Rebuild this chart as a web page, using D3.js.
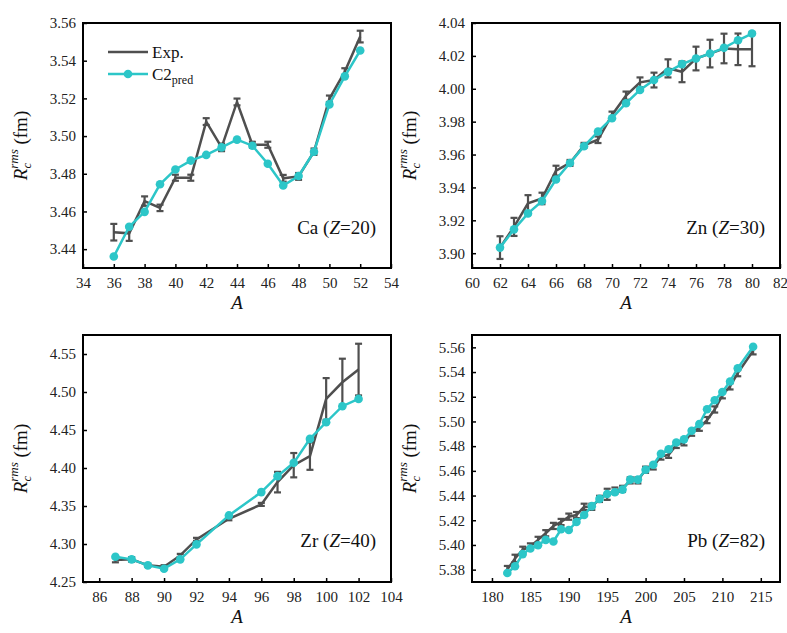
<!DOCTYPE html>
<html>
<head>
<meta charset="utf-8">
<script src="https://cdn.jsdelivr.net/npm/d3@7"></script>
<style>
  body { margin: 0; background: #fff; }
  text { font-family: 'Liberation Serif', 'Times New Roman', 'DejaVu Serif', serif !important; }
</style>
</head>
<body>
<svg></svg>
<script>
// Ca (Z=20)
const caA    = [36, 37, 38, 39, 40, 41, 42, 43, 44, 45, 46, 47, 48, 49, 50, 51, 52];
const caExp  = [3.4490, 3.4484, 3.4655, 3.4619, 3.4779, 3.4779, 3.5077, 3.4940, 3.5181, 3.4954, 3.4954, 3.4776, 3.4786, 3.4917, 3.5198, 3.5342, 3.5528];
const caErr  = [0.0044, 0.0040, 0.0025, 0.0017, 0.0016, 0.0016, 0.0018, 0.0020, 0.0018, 0.0016, 0.0016, 0.0018, 0.0018, 0.0017, 0.0017, 0.0018, 0.0031];
const caPred = [3.4361, 3.4519, 3.4598, 3.4744, 3.4823, 3.4870, 3.4900, 3.4940, 3.4981, 3.4949, 3.4853, 3.4738, 3.4788, 3.4917, 3.5168, 3.5317, 3.5454];

// Zn (Z=30)
const znA    = [62, 63, 64, 65, 66, 67, 68, 69, 70, 71, 72, 73, 74, 75, 76, 77, 78, 79, 80];
const znExp  = [3.9034, 3.9160, 3.9303, 3.9333, 3.9502, 3.9549, 3.9656, 3.9690, 3.9841, 3.9958, 4.0039, 4.0053, 4.0124, 4.0103, 4.0184, 4.0214, 4.0245, 4.0240, 4.0240];
const znErr  = [0.0069, 0.0055, 0.0050, 0.0035, 0.0030, 0.0018, 0.0015, 0.0020, 0.0020, 0.0025, 0.0030, 0.0045, 0.0055, 0.0063, 0.0072, 0.0084, 0.0090, 0.0096, 0.0103];
const znPred = [3.9034, 3.9145, 3.9242, 3.9317, 3.9448, 3.9549, 3.9650, 3.9740, 3.9821, 3.9912, 3.9993, 4.0053, 4.0103, 4.0150, 4.0184, 4.0214, 4.0249, 4.0295, 4.0336];

// Zr (Z=40)
const zrA    = [87, 88, 89, 90, 91, 92, 94, 96, 97, 98, 99, 100, 101, 102];
const zrExp  = [4.2789, 4.2798, 4.2719, 4.2701, 4.2850, 4.3061, 4.3332, 4.3521, 4.3814, 4.4037, 4.4156, 4.4909, 4.5128, 4.5295];
const zrErr  = [0.0030, 0.0030, 0.0020, 0.0020, 0.0020, 0.0020, 0.0020, 0.0020, 0.0135, 0.0160, 0.0180, 0.0274, 0.0310, 0.0340];
const zrPred = [4.2833, 4.2798, 4.2719, 4.2675, 4.2798, 4.2995, 4.3376, 4.3683, 4.3893, 4.4068, 4.4383, 4.4602, 4.4813, 4.4909];

// Pb (Z=82)
const pbA    = [182, 183, 184, 185, 186, 187, 188, 189, 190, 191, 192, 193, 194, 195, 196, 197, 198, 199, 200, 201, 202, 203, 204, 205, 206, 207, 208, 209, 210, 211, 212, 214];
const pbExp  = [5.3800, 5.3891, 5.3961, 5.3988, 5.4041, 5.4095, 5.4154, 5.4186, 5.4229, 5.4242, 5.4309, 5.4309, 5.4373, 5.4410, 5.4440, 5.4454, 5.4523, 5.4523, 5.4609, 5.4636, 5.4716, 5.4730, 5.4810, 5.4831, 5.4909, 5.4949, 5.5011, 5.5097, 5.5212, 5.5284, 5.5391, 5.5573];
const pbErr  = [0.0030, 0.0030, 0.0025, 0.0025, 0.0025, 0.0025, 0.0025, 0.0025, 0.0025, 0.0025, 0.0025, 0.0025, 0.0025, 0.0045, 0.0025, 0.0025, 0.0025, 0.0025, 0.0025, 0.0025, 0.0025, 0.0025, 0.0025, 0.0025, 0.0025, 0.0025, 0.0025, 0.0025, 0.0025, 0.0025, 0.0025, 0.0030];
const pbPred = [5.3773, 5.3827, 5.3926, 5.3971, 5.3998, 5.4041, 5.4028, 5.4127, 5.4121, 5.4186, 5.4242, 5.4314, 5.4373, 5.4413, 5.4427, 5.4448, 5.4529, 5.4529, 5.4609, 5.4649, 5.4738, 5.4775, 5.4829, 5.4855, 5.4925, 5.4979, 5.5099, 5.5172, 5.5239, 5.5324, 5.5431, 5.5605];

// ticks
const caXTicks = [34, 36, 38, 40, 42, 44, 46, 48, 50, 52, 54];
const caYTicks = [3.44, 3.46, 3.48, 3.50, 3.52, 3.54, 3.56];
const znXTicks = [60, 62, 64, 66, 68, 70, 72, 74, 76, 78, 80, 82];
const znYTicks = [3.90, 3.92, 3.94, 3.96, 3.98, 4.00, 4.02, 4.04];
const zrXTicks = [86, 88, 90, 92, 94, 96, 98, 100, 102, 104];
const zrYTicks = [4.25, 4.30, 4.35, 4.40, 4.45, 4.50, 4.55];
const pbXTicks = [180, 185, 190, 195, 200, 205, 210, 215];
const pbYTicks = [5.38, 5.40, 5.42, 5.44, 5.46, 5.48, 5.50, 5.52, 5.54, 5.56];

const expColor = "#4f4f4f";
const predColor = "#2cc6c8";
const serif = "'Liberation Serif', 'Times New Roman', 'DejaVu Serif', serif";

const svg = d3.select("svg")
    .attr("width", 787)
    .attr("height", 633)
    .attr("font-family", serif);

const panels = [
    { el: "Ca", z: "20", A: caA, exp: caExp, err: caErr, pred: caPred, xd: [34, 54], yd: [3.43, 3.56], xt: caXTicks, yt: caYTicks, box: [83, 23, 391, 268], legend: true },
    { el: "Zn", z: "30", A: znA, exp: znExp, err: znErr, pred: znPred, xd: [60, 82], yd: [3.891, 4.04], xt: znXTicks, yt: znYTicks, box: [472, 23, 780, 268] },
    { el: "Zr", z: "40", A: zrA, exp: zrExp, err: zrErr, pred: zrPred, xd: [85, 104], yd: [4.25, 4.575], xt: zrXTicks, yt: zrYTicks, box: [83, 335, 391, 582] },
    { el: "Pb", z: "82", A: pbA, exp: pbExp, err: pbErr, pred: pbPred, xd: [177.4, 217.5], yd: [5.37, 5.57], xt: pbXTicks, yt: pbYTicks, box: [472, 335, 780, 582] }
];

function drawPanel(p) {
    const [x0, y0, x1, y1] = p.box;
    const x = d3.scaleLinear().domain(p.xd).range([x0, x1]);
    const y = d3.scaleLinear().domain(p.yd).range([y1, y0]);
    const g = svg.append("g");

    // axes, ticks point inward
    const xa = g.append("g")
        .attr("transform", `translate(0,${y1})`)
        .call(d3.axisBottom(x).tickValues(p.xt).tickSizeInner(-4).tickSizeOuter(0).tickPadding(9).tickFormat(d3.format("d")));
    const ya = g.append("g")
        .attr("transform", `translate(${x0},0)`)
        .call(d3.axisLeft(y).tickValues(p.yt).tickSizeInner(-4).tickSizeOuter(0).tickPadding(7).tickFormat(d3.format(".2f")));
    [xa, ya].forEach(a => {
        a.attr("font-family", serif).attr("font-size", 15);
        a.select(".domain").remove();
        a.selectAll("line").attr("stroke", "#000").attr("stroke-width", 1.5);
        a.selectAll("text").attr("fill", "#222");
    });

    g.append("rect")
        .attr("x", x0).attr("y", y0)
        .attr("width", x1 - x0).attr("height", y1 - y0)
        .attr("fill", "none").attr("stroke", "#000").attr("stroke-width", 2);

    const idx = d3.range(p.A.length);

    // experiment: line + error bars
    g.append("path")
        .datum(idx)
        .attr("fill", "none")
        .attr("stroke", expColor)
        .attr("stroke-width", 2.5)
        .attr("d", d3.line().x(i => x(p.A[i])).y(i => y(p.exp[i])));

    const eb = g.append("g").attr("stroke", expColor).attr("stroke-width", 2.2);
    eb.selectAll(".v").data(idx).enter().append("line")
        .attr("x1", i => x(p.A[i])).attr("x2", i => x(p.A[i]))
        .attr("y1", i => y(p.exp[i] - p.err[i])).attr("y2", i => y(p.exp[i] + p.err[i]));
    eb.selectAll(".t").data(idx).enter().append("line")
        .attr("x1", i => x(p.A[i]) - 3.5).attr("x2", i => x(p.A[i]) + 3.5)
        .attr("y1", i => y(p.exp[i] + p.err[i])).attr("y2", i => y(p.exp[i] + p.err[i]));
    eb.selectAll(".b").data(idx).enter().append("line")
        .attr("x1", i => x(p.A[i]) - 3.5).attr("x2", i => x(p.A[i]) + 3.5)
        .attr("y1", i => y(p.exp[i] - p.err[i])).attr("y2", i => y(p.exp[i] - p.err[i]));

    // prediction
    g.append("path")
        .datum(idx)
        .attr("fill", "none")
        .attr("stroke", predColor)
        .attr("stroke-width", 2.5)
        .attr("d", d3.line().x(i => x(p.A[i])).y(i => y(p.pred[i])));
    g.selectAll(".pt").data(idx).enter().append("circle")
        .attr("cx", i => x(p.A[i]))
        .attr("cy", i => y(p.pred[i]))
        .attr("r", 4.3)
        .attr("fill", predColor);

    // nucleus label
    const lab = g.append("text")
        .attr("x", x1 - 15).attr("y", p.el === "Ca" || p.el === "Zn" ? 234 : 547)
        .attr("text-anchor", "end")
        .attr("font-size", 19)
        .attr("fill", "#111");
    lab.append("tspan").text(p.el + " (");
    lab.append("tspan").attr("font-style", "italic").text("Z");
    lab.append("tspan").text("=" + p.z + ")");

    // x title
    g.append("text")
        .attr("x", (x0 + x1) / 2).attr("y", y1 + 41)
        .attr("text-anchor", "middle")
        .attr("font-size", 19).attr("font-style", "italic")
        .attr("fill", "#111")
        .text("A");

    // y title
    const yt = g.append("text")
        .attr("transform", `translate(${x0 - 56},${(y0 + y1) / 2}) rotate(-90)`)
        .attr("text-anchor", "middle")
        .attr("font-size", 19)
        .attr("fill", "#111");
    yt.append("tspan").attr("font-style", "italic").text("R");
    yt.append("tspan").attr("font-style", "italic").attr("font-size", 13).attr("dy", 4).text("c");
    yt.append("tspan").attr("font-style", "italic").attr("font-size", 13).attr("dx", -6).attr("dy", -13).text("rms");
    yt.append("tspan").attr("dy", 9).text(" (fm)");

    if (p.legend) {
        const lg = g.append("g");
        lg.append("line").attr("x1", 108).attr("x2", 148).attr("y1", 52).attr("y2", 52)
            .attr("stroke", expColor).attr("stroke-width", 2.5);
        lg.append("text").attr("x", 152).attr("y", 58).attr("font-size", 17).attr("fill", "#111").text("Exp.");
        lg.append("line").attr("x1", 108).attr("x2", 148).attr("y1", 74).attr("y2", 74)
            .attr("stroke", predColor).attr("stroke-width", 2.5);
        lg.append("circle").attr("cx", 128).attr("cy", 74).attr("r", 4.3).attr("fill", predColor);
        const t = lg.append("text").attr("x", 152).attr("y", 80).attr("font-size", 17).attr("fill", "#111");
        t.append("tspan").text("C2");
        t.append("tspan").attr("font-size", 12).attr("dy", 4).text("pred");
    }
}

panels.forEach(drawPanel);
</script>
</body>
</html>
